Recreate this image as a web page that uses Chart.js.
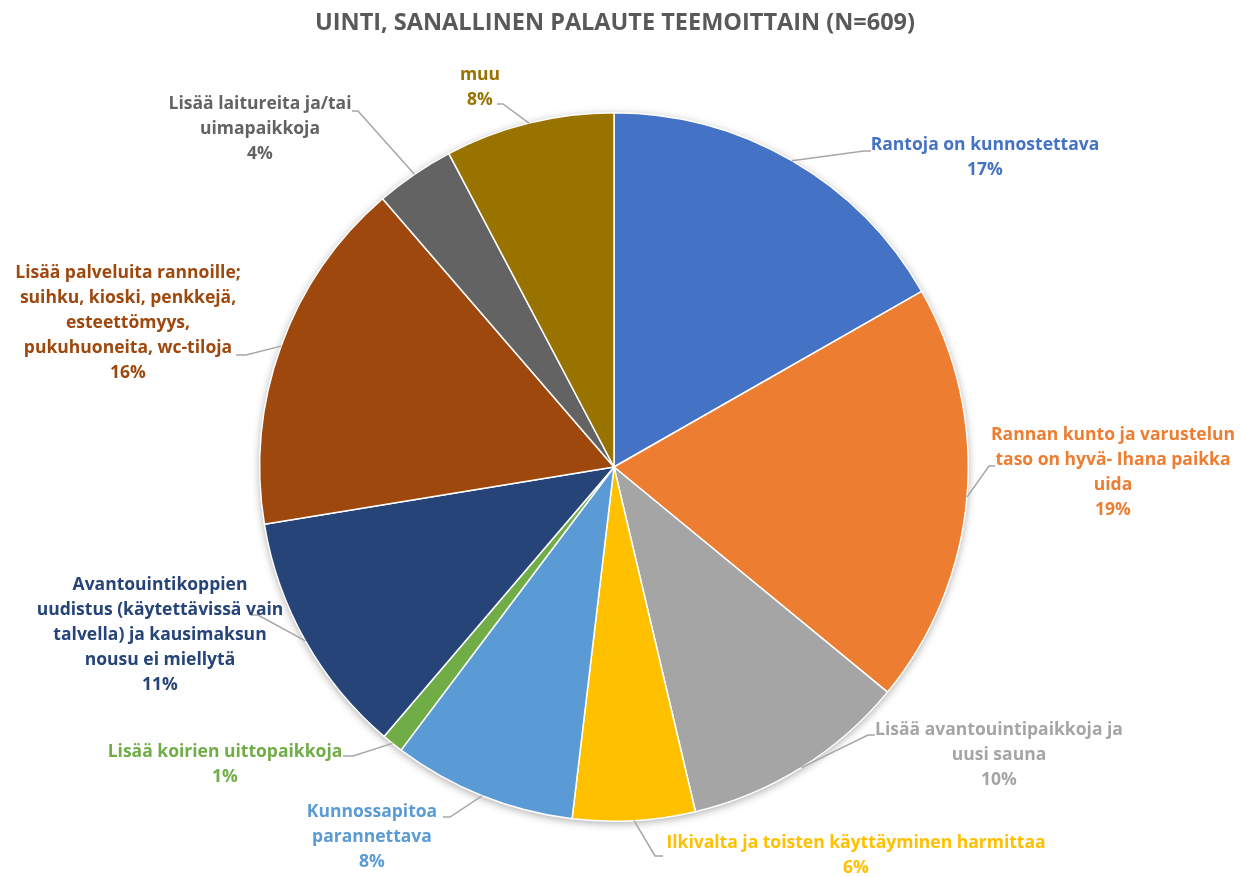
<!DOCTYPE html>
<html>
<head>
<meta charset="utf-8">
<script src="https://cdn.jsdelivr.net/npm/chart.js@4.4.1/dist/chart.umd.min.js"></script>
<style>
  html, body { margin: 0; padding: 0; background: #fff; }
  #wrap { width: 1242px; height: 877px; position: relative; }
</style>
</head>
<body>
<div id="wrap"><canvas id="chart"></canvas></div>
<script>
// Uinti, sanallinen palaute teemoittain (N=609)
var categories = [
    ["Rantoja on kunnostettava"],
    ["Rannan kunto ja varustelun", "taso on hyvä- Ihana paikka", "uida"],
    ["Lisää avantouintipaikkoja ja", "uusi sauna"],
    ["Ilkivalta ja toisten käyttäyminen harmittaa"],
    ["Kunnossapitoa", "parannettava"],
    ["Lisää koirien uittopaikkoja"],
    ["Avantouintikoppien", "uudistus (käytettävissä vain", "talvella) ja kausimaksun", "nousu ei miellytä"],
    ["Lisää palveluita rannoille;", "suihku, kioski, penkkejä,", "esteettömyys,", "pukuhuoneita, wc-tiloja"],
    ["Lisää laitureita ja/tai", "uimapaikkoja"],
    ["muu"]
];
var counts = [102, 117, 63, 34, 51, 6, 68, 99, 22, 47];

var sliceColors = [
    "#4472C4", "#ED7D31", "#A5A5A5", "#FFC000", "#5B9BD5",
    "#70AD47", "#264478", "#9E480E", "#636363", "#997300"
];

// label placement (text centre, first line y, leader elbow, stub length)
var labelPlaces = [
    { x: 985,  y: 145, ex: 864, ey: 151, stub: 7 },
    { x: 1113, y: 435, ex: 989, ey: 466, stub: 6 },
    { x: 999,  y: 730, ex: 868, ey: 735, stub: 7 },
    { x: 856,  y: 843, ex: 655, ey: 856, stub: 8 },
    { x: 372,  y: 812, ex: 450, ey: 817, stub: -7 },
    { x: 225,  y: 752, ex: 353, ey: 756, stub: -10 },
    { x: 160,  y: 585, ex: 258, ey: 615, stub: -8 },
    { x: 128,  y: 273, ex: 246, ey: 355, stub: -10 },
    { x: 260,  y: 104, ex: 358, ey: 111, stub: -6 },
    { x: 480,  y: 75,  ex: 503, ey: 104, stub: -6 }
];

var labelFont = "bold 17.5px 'Open Sans'";
var lineHeight = 25;

var pieExtras = {
    id: 'pieExtras',
    beforeDatasetsDraw: function(chart) {
        var arc = chart.getDatasetMeta(0).data[0];
        var ctx = chart.ctx;
        ctx.save();
        ctx.shadowColor = 'rgba(0,0,0,0.35)';
        ctx.shadowBlur = 9;
        ctx.shadowOffsetY = 2;
        ctx.beginPath();
        ctx.arc(arc.x, arc.y, arc.outerRadius, 0, Math.PI * 2);
        ctx.fillStyle = '#fff';
        ctx.fill();
        ctx.restore();
    },
    afterDatasetsDraw: function(chart) {
        var ctx = chart.ctx;
        var meta = chart.getDatasetMeta(0);
        var total = counts.reduce(function(a, b) { return a + b; }, 0);

        // title
        ctx.save();
        ctx.font = "bold 23.5px 'Open Sans'";
        ctx.fillStyle = "#595959";
        ctx.textAlign = "center";
        ctx.textBaseline = "middle";
        ctx.fillText("UINTI, SANALLINEN PALAUTE TEEMOITTAIN (N=609)", 615, 23);
        ctx.restore();

        meta.data.forEach(function(arc, i) {
            var p = labelPlaces[i];
            var mid = (arc.startAngle + arc.endAngle) / 2;
            var sx = arc.x + Math.cos(mid) * arc.outerRadius;
            var sy = arc.y + Math.sin(mid) * arc.outerRadius;

            ctx.save();
            ctx.strokeStyle = "#A6A6A6";
            ctx.lineWidth = 1.5;
            ctx.beginPath();
            ctx.moveTo(sx, sy);
            ctx.lineTo(p.ex, p.ey);
            ctx.lineTo(p.ex + p.stub, p.ey);
            ctx.stroke();

            var lines = categories[i].concat([Math.round(counts[i] / total * 100) + "%"]);
            ctx.font = labelFont;
            ctx.fillStyle = sliceColors[i];
            ctx.textAlign = "center";
            ctx.textBaseline = "middle";
            lines.forEach(function(t, k) {
                ctx.fillText(t, p.x, p.y + k * lineHeight);
            });
            ctx.restore();
        });
    }
};

new Chart(document.getElementById('chart').getContext('2d'), {
    type: 'pie',
    data: {
        labels: categories,
        datasets: [{
            data: counts,
            backgroundColor: sliceColors,
            borderColor: '#ffffff',
            borderWidth: 1.5
        }]
    },
    options: {
        responsive: true,
        maintainAspectRatio: false,
        animation: false,
        layout: {
            padding: { left: 259, right: 273, top: 112, bottom: 55 }
        },
        plugins: {
            legend: { display: false },
            tooltip: { enabled: false },
            title: { display: false }
        }
    },
    plugins: [pieExtras]
});
</script>
</body>
</html>
